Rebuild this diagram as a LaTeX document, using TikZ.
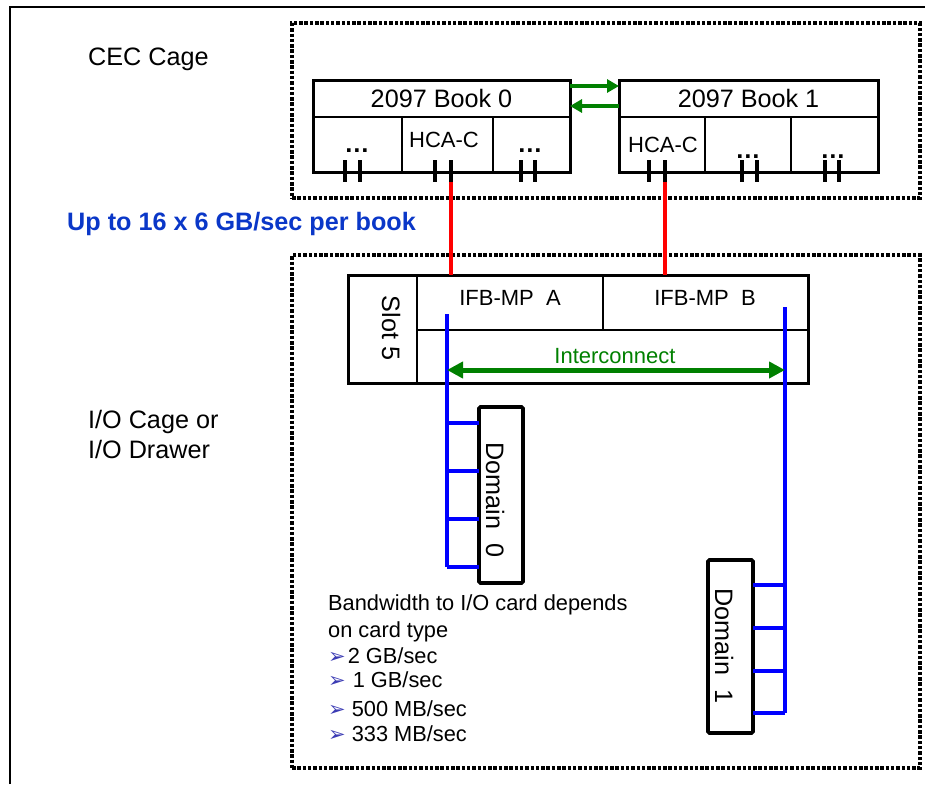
\documentclass[tikz,border=0pt]{standalone}
\usepackage{fontspec}
\setmainfont{Liberation Sans}
\newfontfamily\dejavu{DejaVu Sans}
\usetikzlibrary{arrows.meta}
\definecolor{upblue}{RGB}{10,55,200}
\definecolor{grn}{RGB}{0,128,0}
\definecolor{bul}{RGB}{60,60,180}
\begin{document}
\begin{tikzpicture}[x=1pt,y=-1pt,
  frame/.style={draw=black,line width=1.4pt},
  cage/.style={draw=black,line width=3.8pt,dash pattern=on 3.5pt off 1.8pt,rectangle,inner sep=0pt,outer sep=0pt},
  bookbox/.style={draw=black,line width=3pt,rectangle,inner sep=0pt,outer sep=0pt},
  dombox/.style={draw=black,line width=3.6pt,rectangle,rounded corners=1.5pt,inner sep=0pt,outer sep=0pt},
  div/.style={line width=1.5pt},
  port/.style={line width=3.4pt},
  hca/.style={red,line width=3.2pt},
  bus/.style={blue,line width=3.2pt},
  barrow/.style={grn,line width=4pt,-{Triangle[length=12pt,width=13pt]}},
  iarrow/.style={grn,line width=5pt,{Triangle[length=16pt,width=16pt]}-{Triangle[length=16pt,width=16pt]}},
  lbl/.style={inner sep=0pt,font=\fontsize{25.2}{29}\selectfont},
  mid/.style={inner sep=0pt,font=\fontsize{22}{26}\selectfont},
  note/.style={inner sep=0pt,anchor=base west,font=\fontsize{21.8}{25}\selectfont},
  dots/.style={inner sep=0pt,font=\fontsize{25.2}{29}\selectfont\bfseries},
  bulstyle/.style={},
]
\newcommand{\bulmark}{{\color{bul}\dejavu\fontsize{21}{21}\selectfont ➢}}
\useasboundingbox (0,0) rectangle (925,784);
\draw[frame] (10,784) -- (10,7) -- (925,7);

% cages
\node[cage,anchor=north west,minimum width=628pt,minimum height=175pt] (cec) at (292,23) {};
\node[cage,anchor=north west,minimum width=628pt,minimum height=513pt] (io) at (292,255) {};

% labels left
\node[lbl,anchor=base west] (ceclbl) at (88,66) {CEC Cage};
\node[lbl,anchor=base west,text=upblue,font=\fontsize{25.2}{29}\selectfont\bfseries] (uplbl) at (67,230) {Up to 16 x 6 GB/sec per book};
\node[lbl,anchor=base west] (iolbl1) at (88,428) {I/O Cage or};
\node[lbl,anchor=base west] (iolbl2) at (88,458) {I/O Drawer};

% books
\node[bookbox,anchor=north west,minimum width=257pt,minimum height=92pt] (b0) at (313,80) {};
\node[bookbox,anchor=north west,minimum width=259pt,minimum height=92pt] (b1) at (619,80) {};
\draw[div] (b0.west |- 0,117) -- (b0.east |- 0,117);
\draw[div] (b1.west |- 0,117) -- (b1.east |- 0,117);
\draw[div] (402,117) -- (b0.south -| 402,0);
\draw[div] (493,117) -- (b0.south -| 493,0);
\draw[div] (705,117) -- (b1.south -| 705,0);
\draw[div] (791,117) -- (b1.south -| 791,0);
\node[lbl,anchor=base] (b0t) at (441.5,107) {2097 Book 0};
\node[lbl,anchor=base] (b1t) at (748.5,107) {2097 Book 1};
\node[mid,anchor=base] (h0) at (444,147) {HCA-C};
\node[mid,anchor=base] (h1) at (663,152) {HCA-C};
\node[dots,anchor=base] (d0a) at (357,152) {…};
\node[dots,anchor=base] (d0b) at (530,152) {…};
\node[dots,anchor=base] (d1a) at (748,158) {…};
\node[dots,anchor=base] (d1b) at (833,158) {…};
\foreach \x in {345,360,435,451,521,535,649,665,742,757,825,839}
  \draw[port] (\x,160) -- (\x,182);

\draw[barrow] (b0.east |- 0,86) -- (b1.west |- 0,86);
\draw[barrow] (b1.west |- 0,106) -- (b0.east |- 0,106);

% IFB
\node[bookbox,anchor=north west,minimum width=460pt,minimum height=108pt] (ifb) at (348,275) {};
\draw[div] (417,275) -- (417,383);
\draw[div] (417,330) -- (808,330);
\draw[div] (603,275) -- (603,330);
\node[lbl,anchor=base,rotate=-90] (slot) at (382,328) {Slot 5};
\node[mid,anchor=base] (ifa) at (510,305) {IFB-MP~ A};
\node[mid,anchor=base] (ifbb) at (705,305) {IFB-MP~ B};
\node[mid,anchor=base,text=grn] (ic) at (615,363) {Interconnect};

\coordinate (pa) at (451,182);
\coordinate (pb) at (665,182);
\draw[hca] (pa) -- (pa |- ifb.north);
\draw[hca] (pb) -- (pb |- ifb.north);

% domains
\node[dombox,anchor=north west,minimum width=44pt,minimum height=176pt] (dom0) at (479,407) {};
\node[dombox,anchor=north west,minimum width=45pt,minimum height=173pt] (dom1) at (708,560) {};
\node[lbl,anchor=base,rotate=-90] (dom0t) at (486,500) {Domain~ 0};
\node[lbl,anchor=base,rotate=-90] (dom1t) at (715,646) {Domain~ 1};

\coordinate (ba) at (447,314);
\coordinate (bb) at (785,307);
\draw[bus] (ba) -- (ba |- 0,567);
\foreach \y in {423,471,519,567} \draw[bus] (ba |- 0,\y) -- (dom0.west |- 0,\y);
\draw[bus] (bb) -- (bb |- 0,713);
\foreach \y in {585,628,671,713} \draw[bus] (bb |- 0,\y) -- (dom1.east |- 0,\y);
\draw[iarrow] (ba |- 0,370) -- (bb |- 0,370);

% notes
\node[note] (n1) at (328,610) {Bandwidth to I/O card depends};
\node[note] (n2) at (328,637) {on card type};
\node[note] (n3) at (328,663) {\bulmark\hspace{2pt}2 GB/sec};
\node[note] (n4) at (328,687) {\bulmark\hspace{7pt}1 GB/sec};
\node[note] (n5) at (328,716) {\bulmark\hspace{6pt}500 MB/sec};
\node[note] (n6) at (328,741) {\bulmark\hspace{6pt}333 MB/sec};
\end{tikzpicture}
\end{document}
